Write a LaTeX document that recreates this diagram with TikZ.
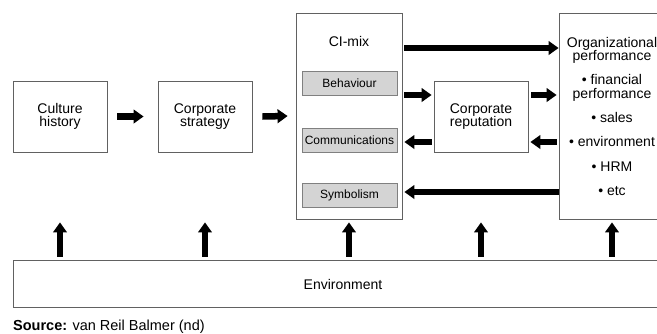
\documentclass[tikz,border=0pt]{standalone}
\usepackage{fontspec}
\setmainfont{Liberation Sans}
\usetikzlibrary{arrows.meta}
\begin{document}
\begin{tikzpicture}[x=1pt,y=-1pt,
  box/.style={draw=black!62, line width=0.8pt, fill=white, inner sep=0pt,
    font=\fontsize{14}{13.5}\selectfont, align=center},
  sub/.style={draw=black!50, line width=0.8pt, fill=black!17, inner sep=0pt,
    minimum width=95pt, minimum height=24pt, font=\fontsize{12}{12}\selectfont},
  lbl/.style={font=\fontsize{14}{14}\selectfont, inner sep=0pt, anchor=base},
  fat/.style={line width=6.5pt, -{Triangle[length=10pt,width=13.5pt]}},
]
\clip (0,0) rectangle (657,333);
\path[use as bounding box] (0,0) rectangle (657,333);

% main boxes
\node[box, minimum width=94pt, minimum height=71pt] (culture) at (60,116.5) {Culture\\history};
\node[box, minimum width=94pt, minimum height=71pt] (strategy) at (205,116.5) {Corporate\\strategy};
\node[box, minimum width=106pt, minimum height=206pt] (cimix) at (349,116) {};
\node[box, minimum width=94pt, minimum height=71pt] (rep) at (481,116.5) {Corporate\\reputation};
\node[box, minimum width=106pt, minimum height=206pt] (org) at (612,116) {};
\node[box, minimum width=660pt, minimum height=47pt] (env) at (343,284) {Environment};

% CI-mix contents
\node[lbl] (cilbl) at (349,46) {CI-mix};
\node[sub] (beh) at (349.5,83.5) {Behaviour};
\node[sub] (comm) at (349.5,140) {Communications};
\node[sub] (sym) at (349.5,195) {Symbolism};

% organizational performance contents
\node[lbl] (o1) at (612,47) {Organizational};
\node[lbl] (o2) at (612,60) {performance};
\node[lbl] (o3) at (612,84.5) {• financial};
\node[lbl] (o4) at (612,98) {performance};
\node[lbl] (o5) at (612,122) {• sales};
\node[lbl] (o6) at (612,146) {• environment};
\node[lbl] (o7) at (612,171) {• HRM};
\node[lbl] (o8) at (612,195.5) {• etc};

% source
\node[inner sep=0pt, anchor=base west, font=\fontsize{14.5}{14.5}\selectfont] (src) at (13,330)
  {\textbf{Source:} van Reil Balmer (nd)};

% horizontal arrows
\draw[fat] ([xshift=10pt]culture.east) -- ([xshift=-14pt]strategy.west);
\draw[fat] ([xshift=10pt]strategy.east) -- ([xshift=-8pt]cimix.west);
\draw[fat] ([xshift=2pt,yshift=68pt]cimix.east) -- ([yshift=68pt]org.west);
\draw[fat] ([xshift=2pt,yshift=21pt]cimix.east) -- ([xshift=-2pt,yshift=21.5pt]rep.west);
\draw[fat] ([xshift=3pt,yshift=21.5pt]rep.east) -- ([xshift=-2pt,yshift=21pt]org.west);
\draw[fat] ([xshift=-2pt,yshift=-26pt]org.west) -- ([xshift=2pt,yshift=-25.5pt]rep.east);
\draw[fat] ([xshift=-2pt,yshift=-25.5pt]rep.west) -- ([xshift=2pt,yshift=-26pt]cimix.east);
\draw[fat] ([yshift=-76pt]org.west) -- ([xshift=2pt,yshift=-76pt]cimix.east);

% upward arrows from environment
\foreach \n in {culture,strategy,cimix,rep,org}
  \draw[fat] ([yshift=3.5pt]\n.south |- env.north) -- ([yshift=-3pt]\n.south |- cimix.south);
\end{tikzpicture}
\end{document}
